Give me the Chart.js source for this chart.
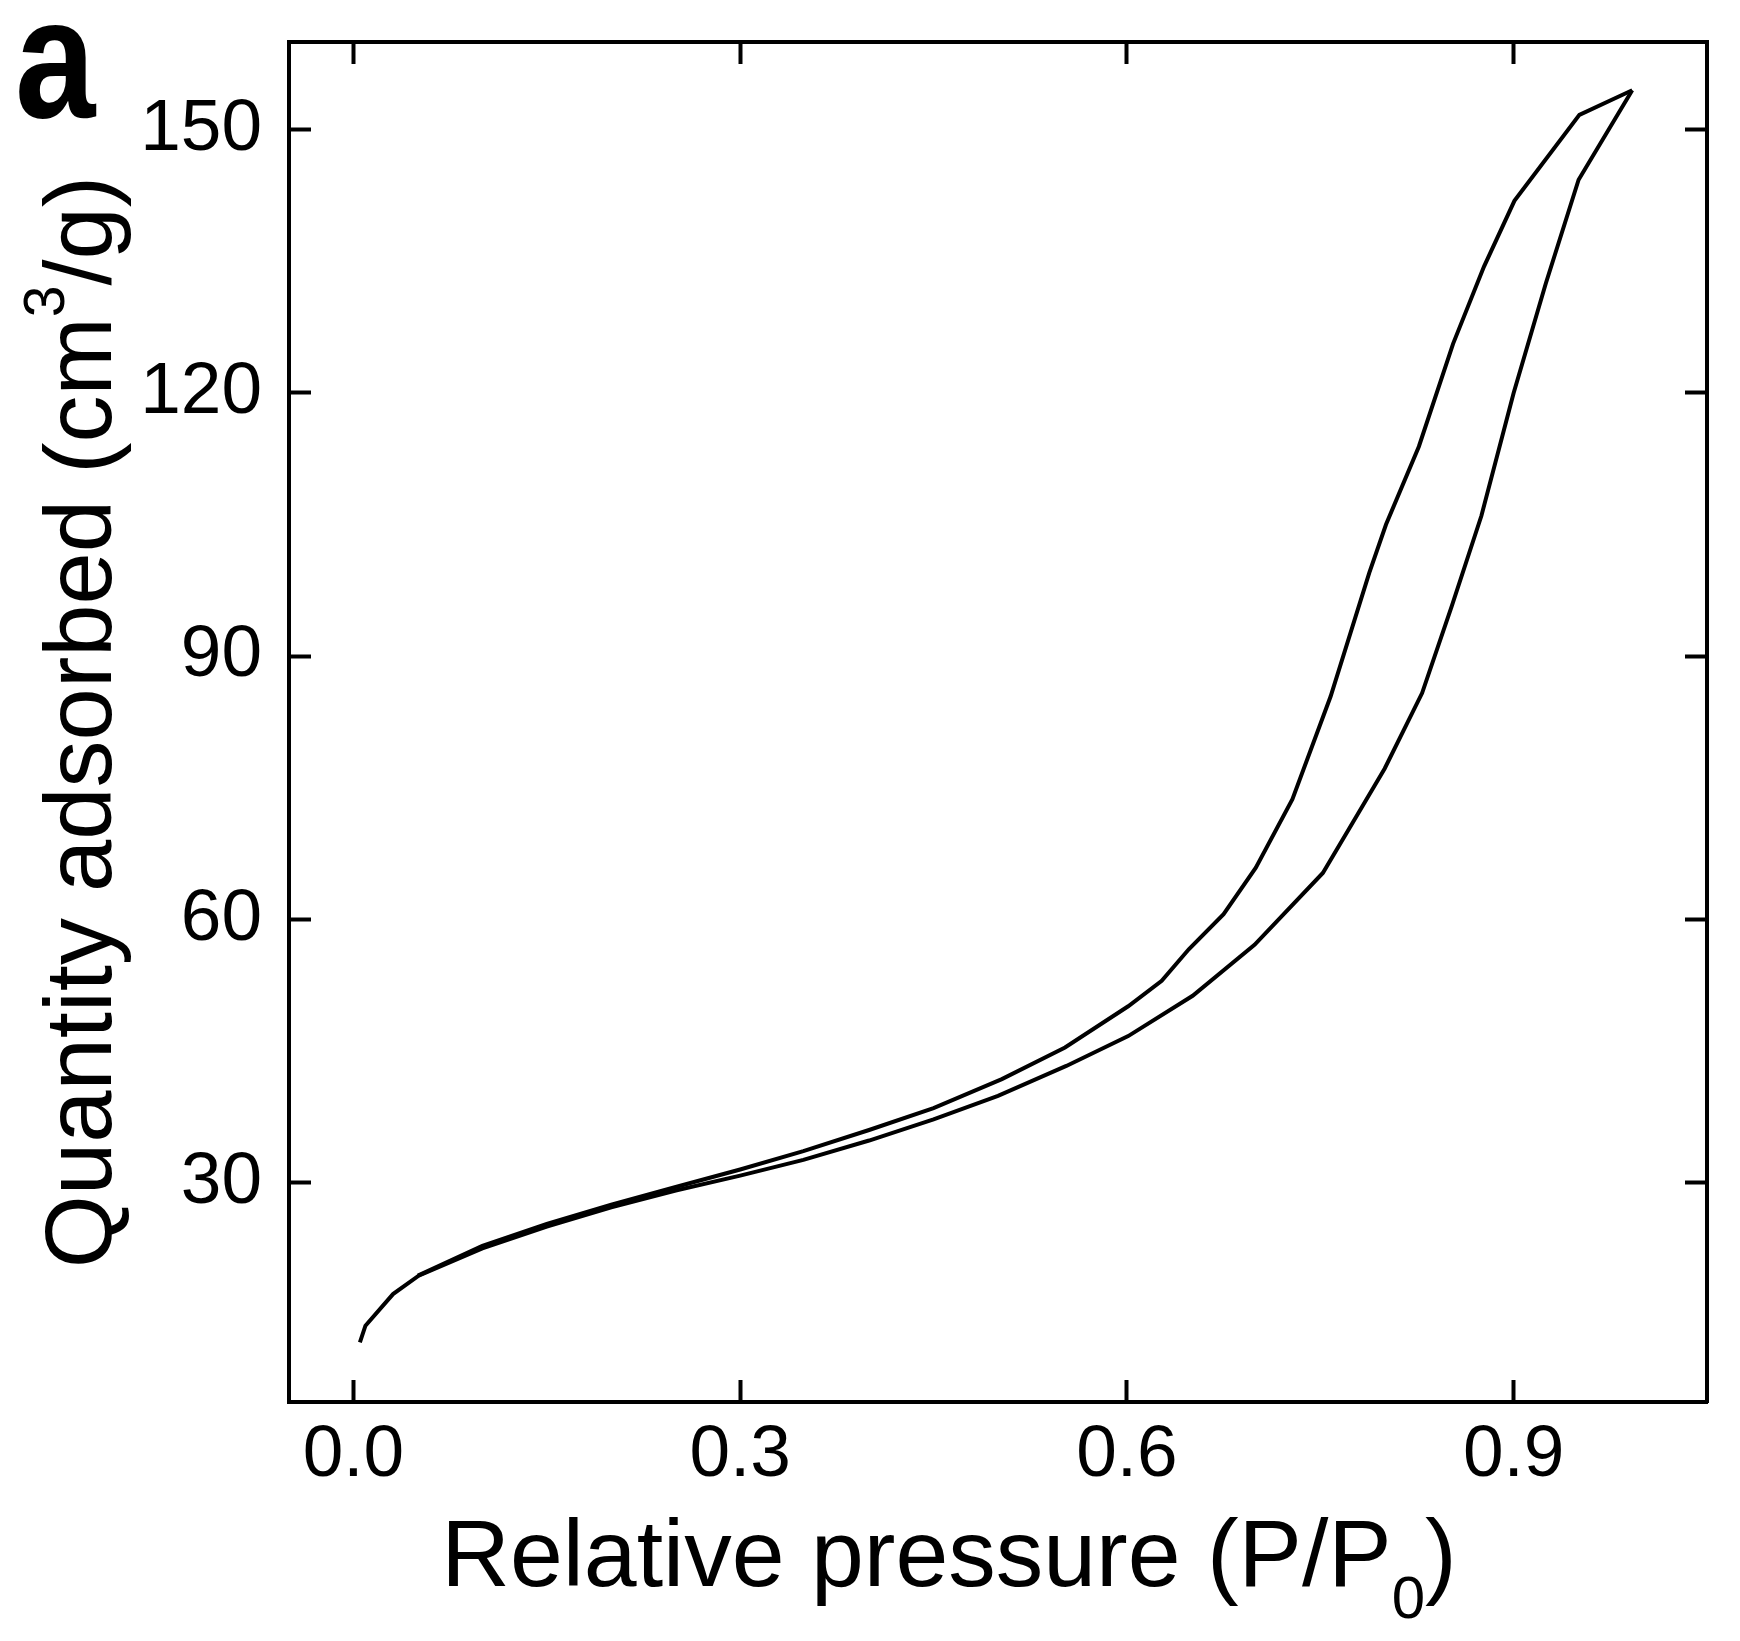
<!DOCTYPE html>
<html>
<head>
<meta charset="utf-8">
<script src="https://cdn.jsdelivr.net/npm/chart.js@4.4.1/dist/chart.umd.min.js"></script>
<style>
  html, body { margin: 0; padding: 0; background: #fff; }
  canvas { display: block; }
</style>
</head>
<body>
<canvas id="chart" width="1740" height="1641"></canvas>
<script>
// adsorption branch (lower curve), P/P0 and quantity adsorbed
const adsorptionP = [0.005, 0.0093, 0.0307, 0.0506, 0.1, 0.15, 0.2, 0.25, 0.3, 0.349, 0.4, 0.45, 0.5, 0.553, 0.601, 0.651, 0.699, 0.752, 0.775, 0.8, 0.829, 0.852, 0.875, 0.9, 0.925, 0.9504, 0.992];
const adsorptionQ = [11.8, 13.7, 17.3, 19.4, 22.5, 25.0, 27.2, 29.1, 30.8, 32.6, 34.8, 37.2, 39.9, 43.3, 46.7, 51.3, 57.1, 65.3, 71.0, 77.2, 85.8, 95.7, 106.0, 120.0, 132.5, 144.3, 154.5];

// desorption branch (upper curve)
const desorptionP = [0.992, 0.951, 0.9006, 0.877, 0.853, 0.8265, 0.801, 0.788, 0.758, 0.7284, 0.7, 0.675, 0.648, 0.627, 0.601, 0.552, 0.503, 0.45, 0.4, 0.349, 0.3, 0.25, 0.2, 0.15, 0.1, 0.05];
const desorptionQ = [154.5, 151.7, 141.9, 134.4, 125.6, 113.9, 105.0, 99.5, 85.4, 73.7, 65.9, 60.6, 56.6, 53.0, 50.1, 45.4, 41.8, 38.5, 36.0, 33.6, 31.5, 29.5, 27.5, 25.3, 22.8, 19.4];

const xTicks = [0, 0.3, 0.6, 0.9];
const yTicks = [30, 60, 90, 120, 150];

const FONT = "'Liberation Sans', Arial, sans-serif";

function toPoints(xs, ys) {
  return xs.map((x, i) => ({ x: x, y: ys[i] }));
}

// inward ticks on every side of the frame
const grid = { drawOnChartArea: false, drawTicks: true, tickLength: -22, tickWidth: 4, tickColor: "#000" };
const border = { display: true, color: "#000", width: 4 };
const tickFont = { family: FONT, size: 73 };

// fixed axis sizes, no extra padding for the end labels
function fitHeight(h) {
  return (s) => { s.height = h; s.paddingLeft = 0; s.paddingRight = 0; };
}
function fitWidth(w) {
  return (s) => { s.width = w; s.paddingTop = 0; s.paddingBottom = 0; };
}

// draws a line of text made of parts with their own size and baseline shift
function drawRich(ctx, parts, cx, baseline) {
  let total = 0;
  parts.forEach(([text, size]) => {
    ctx.font = size + "px " + FONT;
    total += ctx.measureText(text).width;
  });
  let x = cx - total / 2;
  parts.forEach(([text, size, dy]) => {
    ctx.font = size + "px " + FONT;
    ctx.fillText(text, x, baseline + dy);
    x += ctx.measureText(text).width;
  });
}

const labelsPlugin = {
  id: "labels",
  afterDraw(chart) {
    const ctx = chart.ctx;
    ctx.save();
    ctx.fillStyle = "#000";
    ctx.textAlign = "left";
    ctx.textBaseline = "alphabetic";

    // panel letter, a bit narrower than the plain bold face
    ctx.save();
    ctx.translate(15, 117);
    ctx.scale(0.85, 1);
    ctx.font = "bold 170px " + FONT;
    ctx.fillText("a", 0, 0);
    ctx.restore();

    drawRich(ctx, [["Relative pressure (P/P", 95, 0], ["0", 60, 32], [")", 95, 0]], 949, 1586);

    ctx.translate(111, 722);
    ctx.rotate(-Math.PI / 2);
    drawRich(ctx, [["Quantity adsorbed (cm", 94, 0], ["3", 57, -47], ["/g)", 94, 0]], 0, 0);
    ctx.restore();
  },
};

new Chart(document.getElementById("chart"), {
  type: "line",
  data: {
    datasets: [
      {
        label: "Adsorption",
        data: toPoints(adsorptionP, adsorptionQ),
        borderColor: "#000",
        borderWidth: 4,
        pointRadius: 0,
        tension: 0,
        fill: false,
        xAxisID: "x",
        yAxisID: "y",
      },
      {
        label: "Desorption",
        data: toPoints(desorptionP, desorptionQ),
        borderColor: "#000",
        borderWidth: 4,
        pointRadius: 0,
        tension: 0,
        fill: false,
        xAxisID: "x",
        yAxisID: "y",
      },
    ],
  },
  options: {
    responsive: false,
    animation: false,
    devicePixelRatio: 1,
    layout: { padding: { top: 42, right: 33, left: 0, bottom: 0 } },
    plugins: {
      legend: { display: false },
      tooltip: { enabled: false },
    },
    scales: {
      x: {
        type: "linear",
        position: "bottom",
        min: -0.05,
        max: 1.05,
        grid: grid,
        border: border,
        ticks: {
          font: tickFont,
          color: "#000",
          padding: 32,
          maxRotation: 0,
          autoSkip: false,
          callback: (v) => v.toFixed(1),
        },
        afterBuildTicks: (s) => { s.ticks = xTicks.map((v) => ({ value: v })); },
        afterFit: fitHeight(239),
      },
      x2: {
        type: "linear",
        position: "top",
        min: -0.05,
        max: 1.05,
        grid: grid,
        border: border,
        ticks: { display: false },
        afterBuildTicks: (s) => { s.ticks = xTicks.map((v) => ({ value: v })); },
        afterFit: fitHeight(0),
      },
      y: {
        type: "linear",
        position: "left",
        min: 5,
        max: 160,
        grid: grid,
        border: border,
        ticks: {
          font: tickFont,
          color: "#000",
          padding: 49,
          autoSkip: false,
          callback: (v) => String(v),
        },
        afterBuildTicks: (s) => { s.ticks = yTicks.map((v) => ({ value: v })); },
        afterFit: fitWidth(289),
      },
      y2: {
        type: "linear",
        position: "right",
        min: 5,
        max: 160,
        grid: grid,
        border: border,
        ticks: { display: false },
        afterBuildTicks: (s) => { s.ticks = yTicks.map((v) => ({ value: v })); },
        afterFit: fitWidth(0),
      },
    },
  },
  plugins: [labelsPlugin],
});
</script>
</body>
</html>
